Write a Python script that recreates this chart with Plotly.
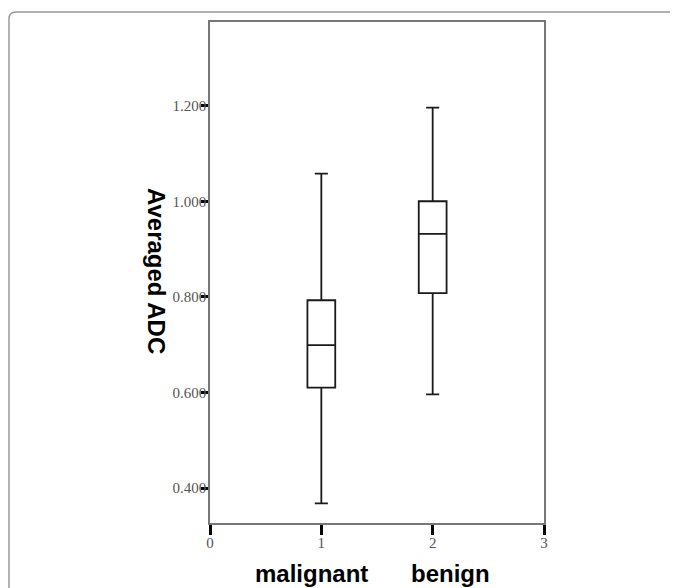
import plotly.graph_objects as go

# data
groups = [1, 2]
lower_whisker = [0.368, 0.596]
q1_values = [0.610, 0.808]
medians = [0.699, 0.932]
q3_values = [0.793, 1.000]
upper_whisker = [1.058, 1.196]
y_ticks = [0.4, 0.6, 0.8, 1.0, 1.2]
x_ticks = [0, 1, 2, 3]
group_names = ["malignant", "benign"]

OFF = 8  # page body margin
W, H = 678 - OFF, 588 - OFF
L, R, T, B = 210 - OFF, 544 - OFF, 20 - OFF, 523 - OFF

fig = go.Figure()
fig.add_trace(go.Box(
    x=groups,
    q1=q1_values, median=medians, q3=q3_values,
    lowerfence=lower_whisker, upperfence=upper_whisker,
    width=0.25, whiskerwidth=0.47,
    fillcolor="white",
    line=dict(color="#1a1a1a", width=1.8),
    boxpoints=False, showlegend=False, hoverinfo="skip",
))

def px(x):
    # window pixel -> paper
    return (x - OFF - L) / (R - L)

def py(y):
    return (B - (y - OFF)) / (B - T)

# outer rounded frame
x0, y0, r = 9, 10, 7
x1, y1 = 700, 620
path = (f"M {px(x0)},{py(y1)} L {px(x0)},{py(y0 + r)} "
        f"Q {px(x0)},{py(y0)} {px(x0 + r)},{py(y0)} L {px(x1)},{py(y0)}")

fig.add_shape(type="path", path=path, xref="paper", yref="paper",
              line=dict(color="#999999", width=1.5))

tickfont = dict(family="Liberation Serif, Times New Roman, serif", size=15, color="#555555")
titlefont = dict(family="Liberation Sans, Arial, sans-serif", size=24, color="black")

fig.add_annotation(text="<b>Averaged ADC</b>", textangle=90, xref="paper", yref="paper",
                   x=px(157), y=py(270), showarrow=False, font=titlefont,
                   xanchor="center", yanchor="middle")
fig.add_annotation(text="<b>" + group_names[0] + "</b>", xref="paper", yref="paper",
                   x=px(311), y=py(574), showarrow=False, font=titlefont,
                   xanchor="center", yanchor="middle")
fig.add_annotation(text="<b>" + group_names[1] + "</b>", xref="paper", yref="paper",
                   x=px(450), y=py(574), showarrow=False, font=titlefont,
                   xanchor="center", yanchor="middle")

fig.update_layout(
    width=W, height=H,
    margin=dict(l=L, r=W - R, t=T, b=H - B, pad=0),
    paper_bgcolor="white", plot_bgcolor="white",
    xaxis=dict(range=[0, 3], tickvals=x_ticks, ticktext=[str(v) for v in x_ticks],
               showgrid=False, zeroline=False, showline=True, mirror=True,
               linecolor="#777777", linewidth=1.5,
               ticks="outside", ticklen=10, tickwidth=3, tickcolor="black",
               ticklabelstandoff=-5,
               tickfont=tickfont),
    yaxis=dict(range=[0.327, 1.375], tickvals=y_ticks, tickformat=".3f",
               showgrid=False, zeroline=False, showline=True, mirror=True,
               linecolor="#777777", linewidth=1.5,
               ticks="outside", ticklen=7, tickwidth=3, tickcolor="black",
               ticklabelstandoff=-8,
               tickfont=tickfont),
)

fig.write_html("out.html")
